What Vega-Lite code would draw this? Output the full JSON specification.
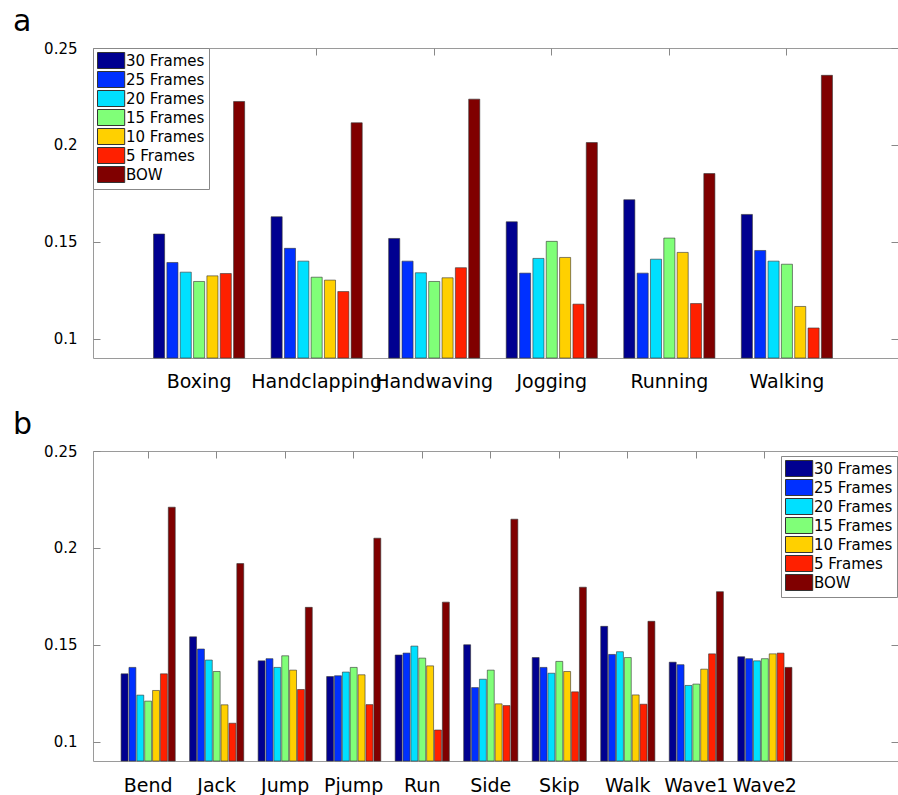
{
  "$schema": "https://vega.github.io/schema/vega-lite/v6.json",
  "padding": {"left": 12, "top": 6, "right": 0, "bottom": 0},
  "spacing": 17,
  "config": {
    "font": "DejaVu Sans",
    "view": {"stroke": "#9a9a9a", "strokeWidth": 1},
    "axis": {"grid": false, "domain": false, "labelFont": "DejaVu Sans", "labelColor": "#000", "tickColor": "#888", "tickWidth": 1},
    "legend": {
      "symbolType": "M-1,-1H2.4V1H-1Z", "symbolSize": 256, "symbolStrokeColor": "#333", "symbolStrokeWidth": 1,
      "symbolOpacity": 1, "labelFontSize": 15, "labelFont": "DejaVu Sans", "labelColor": "#000", "labelOffset": 12,
      "rowPadding": -2, "padding": 4, "strokeColor": "#888", "fillColor": "white"
    },
    "title": {"font": "DejaVu Sans", "fontWeight": "normal", "fontSize": 30, "color": "#000", "anchor": "start", "frame": "group", "dx": -80, "baseline": "alphabetic", "offset": 4}
  },
  "resolve": {"legend": {"color": "independent"}, "scale": {"xOffset": "independent", "color": "independent"}},
  "datasets": {
    "a": [
      {"action": "Boxing", "method": "30 Frames", "value": 0.154},
      {"action": "Boxing", "method": "25 Frames", "value": 0.1393},
      {"action": "Boxing", "method": "20 Frames", "value": 0.1343},
      {"action": "Boxing", "method": "15 Frames", "value": 0.1295},
      {"action": "Boxing", "method": "10 Frames", "value": 0.1324},
      {"action": "Boxing", "method": "5 Frames", "value": 0.1336},
      {"action": "Boxing", "method": "BOW", "value": 0.2224},
      {"action": "Handclapping", "method": "30 Frames", "value": 0.1629},
      {"action": "Handclapping", "method": "25 Frames", "value": 0.1466},
      {"action": "Handclapping", "method": "20 Frames", "value": 0.140},
      {"action": "Handclapping", "method": "15 Frames", "value": 0.1317},
      {"action": "Handclapping", "method": "10 Frames", "value": 0.1302},
      {"action": "Handclapping", "method": "5 Frames", "value": 0.1243},
      {"action": "Handclapping", "method": "BOW", "value": 0.2114},
      {"action": "Handwaving", "method": "30 Frames", "value": 0.1517},
      {"action": "Handwaving", "method": "25 Frames", "value": 0.140},
      {"action": "Handwaving", "method": "20 Frames", "value": 0.134},
      {"action": "Handwaving", "method": "15 Frames", "value": 0.1295},
      {"action": "Handwaving", "method": "10 Frames", "value": 0.1314},
      {"action": "Handwaving", "method": "5 Frames", "value": 0.1366},
      {"action": "Handwaving", "method": "BOW", "value": 0.2236},
      {"action": "Jogging", "method": "30 Frames", "value": 0.1603},
      {"action": "Jogging", "method": "25 Frames", "value": 0.1338},
      {"action": "Jogging", "method": "20 Frames", "value": 0.1414},
      {"action": "Jogging", "method": "15 Frames", "value": 0.1502},
      {"action": "Jogging", "method": "10 Frames", "value": 0.1419},
      {"action": "Jogging", "method": "5 Frames", "value": 0.1178},
      {"action": "Jogging", "method": "BOW", "value": 0.2012},
      {"action": "Running", "method": "30 Frames", "value": 0.1717},
      {"action": "Running", "method": "25 Frames", "value": 0.1338},
      {"action": "Running", "method": "20 Frames", "value": 0.141},
      {"action": "Running", "method": "15 Frames", "value": 0.1519},
      {"action": "Running", "method": "10 Frames", "value": 0.1445},
      {"action": "Running", "method": "5 Frames", "value": 0.1181},
      {"action": "Running", "method": "BOW", "value": 0.1852},
      {"action": "Walking", "method": "30 Frames", "value": 0.1641},
      {"action": "Walking", "method": "25 Frames", "value": 0.1455},
      {"action": "Walking", "method": "20 Frames", "value": 0.140},
      {"action": "Walking", "method": "15 Frames", "value": 0.1384},
      {"action": "Walking", "method": "10 Frames", "value": 0.1166},
      {"action": "Walking", "method": "5 Frames", "value": 0.1055},
      {"action": "Walking", "method": "BOW", "value": 0.2359}
    ],
    "b": [
      {"action": "Bend", "method": "30 Frames", "value": 0.135},
      {"action": "Bend", "method": "25 Frames", "value": 0.1383},
      {"action": "Bend", "method": "20 Frames", "value": 0.124},
      {"action": "Bend", "method": "15 Frames", "value": 0.1209},
      {"action": "Bend", "method": "10 Frames", "value": 0.1264},
      {"action": "Bend", "method": "5 Frames", "value": 0.135},
      {"action": "Bend", "method": "BOW", "value": 0.221},
      {"action": "Jack", "method": "30 Frames", "value": 0.1541},
      {"action": "Jack", "method": "25 Frames", "value": 0.1478},
      {"action": "Jack", "method": "20 Frames", "value": 0.1421},
      {"action": "Jack", "method": "15 Frames", "value": 0.1362},
      {"action": "Jack", "method": "10 Frames", "value": 0.119},
      {"action": "Jack", "method": "5 Frames", "value": 0.1095},
      {"action": "Jack", "method": "BOW", "value": 0.1919},
      {"action": "Jump", "method": "30 Frames", "value": 0.1417},
      {"action": "Jump", "method": "25 Frames", "value": 0.1428},
      {"action": "Jump", "method": "20 Frames", "value": 0.1383},
      {"action": "Jump", "method": "15 Frames", "value": 0.1443},
      {"action": "Jump", "method": "10 Frames", "value": 0.1369},
      {"action": "Jump", "method": "5 Frames", "value": 0.1269},
      {"action": "Jump", "method": "BOW", "value": 0.1693},
      {"action": "Pjump", "method": "30 Frames", "value": 0.1336},
      {"action": "Pjump", "method": "25 Frames", "value": 0.134},
      {"action": "Pjump", "method": "20 Frames", "value": 0.1359},
      {"action": "Pjump", "method": "15 Frames", "value": 0.1383},
      {"action": "Pjump", "method": "10 Frames", "value": 0.1345},
      {"action": "Pjump", "method": "5 Frames", "value": 0.1191},
      {"action": "Pjump", "method": "BOW", "value": 0.205},
      {"action": "Run", "method": "30 Frames", "value": 0.1447},
      {"action": "Run", "method": "25 Frames", "value": 0.1457},
      {"action": "Run", "method": "20 Frames", "value": 0.1493},
      {"action": "Run", "method": "15 Frames", "value": 0.1431},
      {"action": "Run", "method": "10 Frames", "value": 0.1391},
      {"action": "Run", "method": "5 Frames", "value": 0.106},
      {"action": "Run", "method": "BOW", "value": 0.172},
      {"action": "Side", "method": "30 Frames", "value": 0.15},
      {"action": "Side", "method": "25 Frames", "value": 0.1279},
      {"action": "Side", "method": "20 Frames", "value": 0.1322},
      {"action": "Side", "method": "15 Frames", "value": 0.1369},
      {"action": "Side", "method": "10 Frames", "value": 0.1195},
      {"action": "Side", "method": "5 Frames", "value": 0.1186},
      {"action": "Side", "method": "BOW", "value": 0.2148},
      {"action": "Skip", "method": "30 Frames", "value": 0.1434},
      {"action": "Skip", "method": "25 Frames", "value": 0.1383},
      {"action": "Skip", "method": "20 Frames", "value": 0.1353},
      {"action": "Skip", "method": "15 Frames", "value": 0.1414},
      {"action": "Skip", "method": "10 Frames", "value": 0.1362},
      {"action": "Skip", "method": "5 Frames", "value": 0.1257},
      {"action": "Skip", "method": "BOW", "value": 0.1797},
      {"action": "Walk", "method": "30 Frames", "value": 0.1595},
      {"action": "Walk", "method": "25 Frames", "value": 0.145},
      {"action": "Walk", "method": "20 Frames", "value": 0.1464},
      {"action": "Walk", "method": "15 Frames", "value": 0.1434},
      {"action": "Walk", "method": "10 Frames", "value": 0.1241},
      {"action": "Walk", "method": "5 Frames", "value": 0.1193},
      {"action": "Walk", "method": "BOW", "value": 0.1621},
      {"action": "Wave1", "method": "30 Frames", "value": 0.141},
      {"action": "Wave1", "method": "25 Frames", "value": 0.1397},
      {"action": "Wave1", "method": "20 Frames", "value": 0.129},
      {"action": "Wave1", "method": "15 Frames", "value": 0.1297},
      {"action": "Wave1", "method": "10 Frames", "value": 0.1374},
      {"action": "Wave1", "method": "5 Frames", "value": 0.1453},
      {"action": "Wave1", "method": "BOW", "value": 0.1774},
      {"action": "Wave2", "method": "30 Frames", "value": 0.1438},
      {"action": "Wave2", "method": "25 Frames", "value": 0.1428},
      {"action": "Wave2", "method": "20 Frames", "value": 0.1417},
      {"action": "Wave2", "method": "15 Frames", "value": 0.1428},
      {"action": "Wave2", "method": "10 Frames", "value": 0.1453},
      {"action": "Wave2", "method": "5 Frames", "value": 0.1457},
      {"action": "Wave2", "method": "BOW", "value": 0.1383}
    ]
  },
  "vconcat": [
    {
      "title": "a",
      "width": 805,
      "height": 310,
      "data": {"name": "a"},
      "encoding": {
        "x": {"field": "action", "type": "nominal", "sort": null, "scale": {"range": [0, 800], "paddingInner": 0.225, "paddingOuter": 0.515},
              "axis": {"title": null, "ticks": false, "labelAngle": 0, "labelFontSize": 19, "labelPadding": 14}},
        "xOffset": {"field": "method", "type": "nominal", "sort": ["30 Frames", "25 Frames", "20 Frames", "15 Frames", "10 Frames", "5 Frames", "BOW"], "scale": {"paddingInner": 0.17, "paddingOuter": 0}},
        "y": {"field": "value", "type": "quantitative", "scale": {"domain": [0.09, 0.25], "zero": false, "nice": false},
              "axis": {"title": null, "values": [0.1, 0.15, 0.2, 0.25], "format": "~g", "labelFontSize": 15, "tickSize": -7, "labelPadding": 23}},
        "y2": {"datum": 0.09},
        "color": {"field": "method", "type": "nominal",
                  "scale": {"domain": ["30 Frames", "25 Frames", "20 Frames", "15 Frames", "10 Frames", "5 Frames", "BOW"], "range": ["#000090", "#0030ff", "#00e0ff", "#80ff78", "#ffd000", "#ff2000", "#800000"]},
                  "legend": {"title": null, "orient": "none", "legendX": 0, "legendY": 0}}
      },
      "layer": [
        {"mark": {"type": "bar", "stroke": "#333", "strokeWidth": 0.6}},
        {"mark": {"type": "bar", "opacity": 0},
         "encoding": {
           "x": {"field": "action", "type": "nominal", "sort": null, "axis": {"orient": "top", "title": null, "labels": false, "ticks": true, "tickSize": -7}},
           "y": {"field": "value", "type": "quantitative", "scale": {"zero": false}, "axis": {"orient": "right", "title": null, "labels": false, "values": [0.1, 0.15, 0.2, 0.25], "tickSize": -7}}
         }}
      ],
      "resolve": {"axis": {"x": "independent", "y": "independent"}}
    },
    {
      "title": "b",
      "width": 805,
      "height": 310,
      "data": {"name": "b"},
      "encoding": {
        "x": {"field": "action", "type": "nominal", "sort": null, "scale": {"range": [0, 727], "paddingInner": 0.21, "paddingOuter": 0.41},
              "axis": {"title": null, "ticks": false, "labelAngle": 0, "labelFontSize": 19, "labelPadding": 15}},
        "xOffset": {"field": "method", "type": "nominal", "sort": ["30 Frames", "25 Frames", "20 Frames", "15 Frames", "10 Frames", "5 Frames", "BOW"], "scale": {"paddingInner": 0.12, "paddingOuter": 0}},
        "y": {"field": "value", "type": "quantitative", "scale": {"domain": [0.09, 0.25], "zero": false, "nice": false},
              "axis": {"title": null, "values": [0.1, 0.15, 0.2, 0.25], "format": "~g", "labelFontSize": 15, "tickSize": -7, "labelPadding": 23}},
        "y2": {"datum": 0.09},
        "color": {"field": "method", "type": "nominal",
                  "scale": {"domain": ["30 Frames", "25 Frames", "20 Frames", "15 Frames", "10 Frames", "5 Frames", "BOW"], "range": ["#000090", "#0030ff", "#00e0ff", "#80ff78", "#ffd000", "#ff2000", "#800000"]},
                  "legend": {"title": null, "orient": "none", "legendX": 688, "legendY": 5}}
      },
      "layer": [
        {"mark": {"type": "bar", "stroke": "#333", "strokeWidth": 0.6}},
        {"mark": {"type": "bar", "opacity": 0},
         "encoding": {
           "x": {"field": "action", "type": "nominal", "sort": null, "axis": {"orient": "top", "title": null, "labels": false, "ticks": true, "tickSize": -7}},
           "y": {"field": "value", "type": "quantitative", "scale": {"zero": false}, "axis": {"orient": "right", "title": null, "labels": false, "values": [0.1, 0.15, 0.2, 0.25], "tickSize": -7}}
         }}
      ],
      "resolve": {"axis": {"x": "independent", "y": "independent"}}
    }
  ]
}
